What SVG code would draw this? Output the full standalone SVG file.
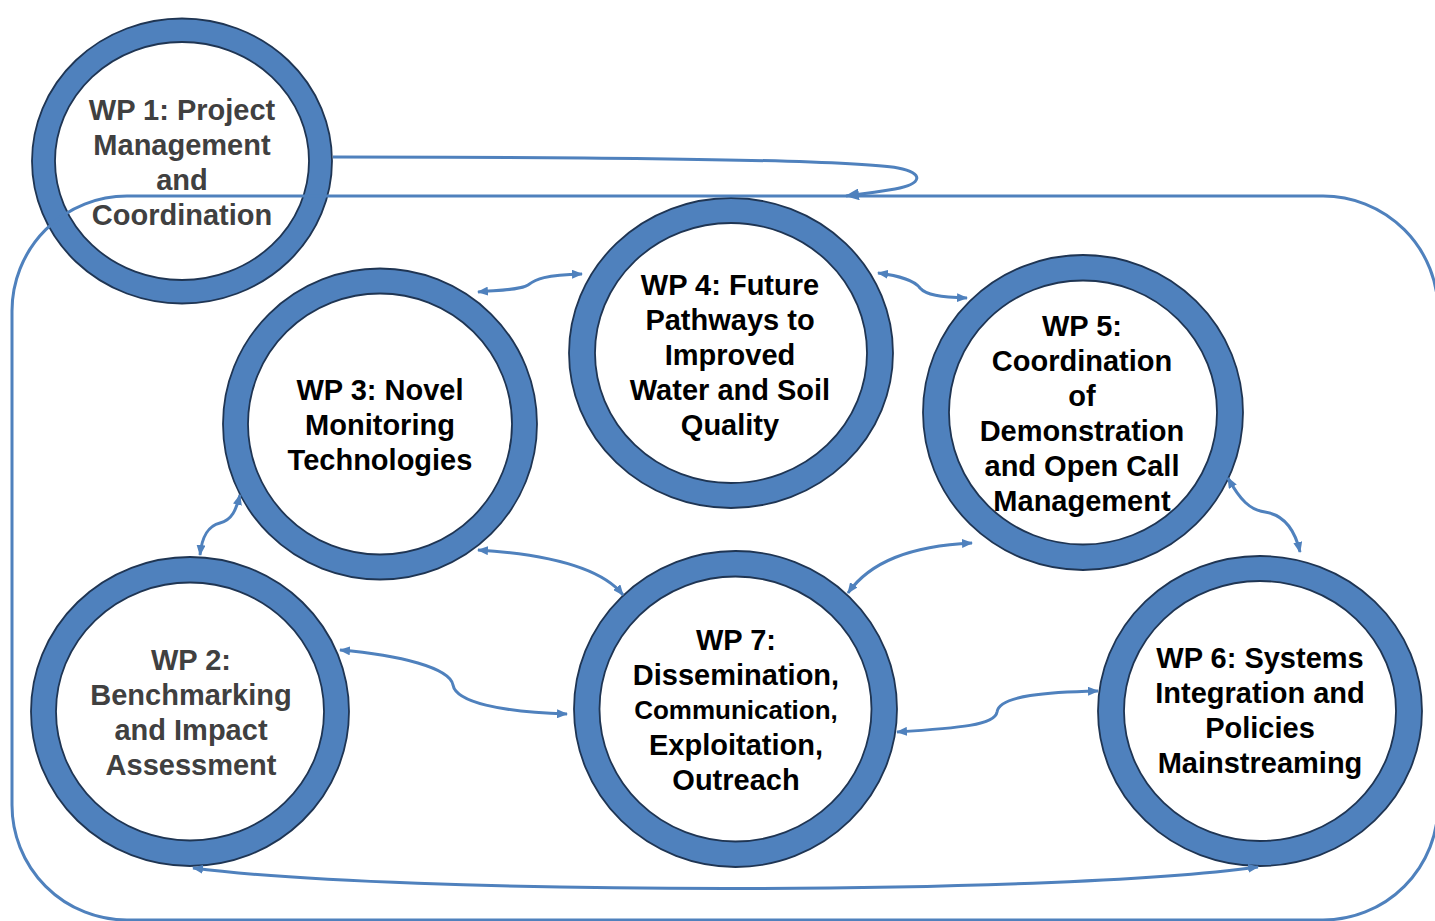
<svg xmlns="http://www.w3.org/2000/svg" width="1435" height="921" viewBox="0 0 1435 921">
<style>
.ring{fill:#4f81bd;stroke:#1f3553;stroke-width:1.8}
.hole{fill:#ffffff;stroke:#1f3553;stroke-width:1.8}
.t{font-family:"Liberation Sans",Arial,sans-serif;font-weight:bold;font-size:29px;text-anchor:middle;fill:#000}
.g{fill:#404040}
.c{fill:none;stroke:#4f81bd;stroke-width:3;marker-start:url(#ah);marker-end:url(#ah)}
.frame{fill:none;stroke:#4f81bd;stroke-width:3}
</style>
<defs>
<marker id="ah" viewBox="0 0 11 9" refX="10" refY="4.5" markerWidth="11" markerHeight="9" markerUnits="userSpaceOnUse" orient="auto-start-reverse">
<path d="M0,0 L11,4.5 L0,9 z" fill="#4f81bd"/>
</marker>
<marker id="big" viewBox="0 0 14 12" refX="13" refY="6" markerWidth="14" markerHeight="12" markerUnits="userSpaceOnUse" orient="auto">
<path d="M0,0 L14,6 L0,12 z" fill="#4f81bd"/>
</marker>
</defs>
<rect width="1435" height="921" fill="#ffffff"/>

<g id="wp1">
<ellipse class="ring" cx="182" cy="161" rx="150" ry="142.5"/>
<ellipse class="hole" cx="182" cy="161" rx="127" ry="119"/>
<text class="t g" x="182" y="120">WP 1: Project</text>
<text class="t g" x="182" y="155">Management</text>
<text class="t g" x="182" y="190">and</text>
<text class="t g" x="182" y="225">Coordination</text>
</g>

<g id="wp3">
<ellipse class="ring" cx="380" cy="424" rx="157" ry="155.5"/>
<ellipse class="hole" cx="380" cy="424" rx="132" ry="130.5"/>
<text class="t" x="380" y="400">WP 3: Novel</text>
<text class="t" x="380" y="435">Monitoring</text>
<text class="t" x="380" y="470">Technologies</text>
</g>

<g id="wp4">
<ellipse class="ring" cx="731" cy="353" rx="162" ry="155"/>
<ellipse class="hole" cx="731" cy="353" rx="136" ry="130"/>
<text class="t" x="730" y="295">WP 4: Future</text>
<text class="t" x="730" y="330">Pathways to</text>
<text class="t" x="730" y="365">Improved</text>
<text class="t" x="730" y="400">Water and Soil</text>
<text class="t" x="730" y="435">Quality</text>
</g>

<g id="wp5">
<ellipse class="ring" cx="1083" cy="412.5" rx="160" ry="157.5"/>
<ellipse class="hole" cx="1083" cy="412.5" rx="134" ry="132"/>
<text class="t" x="1082" y="336">WP 5:</text>
<text class="t" x="1082" y="371">Coordination</text>
<text class="t" x="1082" y="406">of</text>
<text class="t" x="1082" y="441">Demonstration</text>
<text class="t" x="1082" y="476">and Open Call</text>
<text class="t" x="1082" y="511">Management</text>
</g>

<g id="wp2">
<ellipse class="ring" cx="190" cy="711.5" rx="159" ry="154.5"/>
<ellipse class="hole" cx="190" cy="711.5" rx="134" ry="129"/>
<text class="t g" x="191" y="670">WP 2:</text>
<text class="t g" x="191" y="705">Benchmarking</text>
<text class="t g" x="191" y="740">and Impact</text>
<text class="t g" x="191" y="775">Assessment</text>
</g>

<g id="wp7">
<ellipse class="ring" cx="735.5" cy="709" rx="161.5" ry="158"/>
<ellipse class="hole" cx="735.5" cy="709" rx="136" ry="132.5"/>
<text class="t" x="736" y="650">WP 7:</text>
<text class="t" x="736" y="685">Dissemination,</text>
<text class="t" x="736" y="719" style="font-size:26px">Communication,</text>
<text class="t" x="736" y="755">Exploitation,</text>
<text class="t" x="736" y="790">Outreach</text>
</g>

<g id="wp6">
<ellipse class="ring" cx="1260" cy="711" rx="162" ry="155"/>
<ellipse class="hole" cx="1260" cy="711" rx="136" ry="130"/>
<text class="t" x="1260" y="668">WP 6: Systems</text>
<text class="t" x="1260" y="703">Integration and</text>
<text class="t" x="1260" y="738">Policies</text>
<text class="t" x="1260" y="773">Mainstreaming</text>
</g>

<g id="frame">
<rect class="frame" x="12" y="196" width="1426" height="724" rx="115" ry="115"/>
</g>

<g id="connectors">
<path d="M333,157 C 600,157 850,160 898,168 C 925,173 922,184 895,189 C 878,192 862,194 846,196" fill="none" stroke="#4f81bd" stroke-width="3" marker-end="url(#big)"/>
<path class="c" d="M478,292 C 500,290 520,290 528,285 C 536,279 545,275 582,274"/>
<path class="c" d="M878,273 C 900,276 914,280 920,288 C 926,295 940,297 967,298"/>
<path class="c" d="M240,495 C 236,510 232,520 220,523 C 208,526 202,536 200,555"/>
<path class="c" d="M478,550 C 540,554 600,566 623,595"/>
<path class="c" d="M848,593 C 870,562 910,546 972,543"/>
<path class="c" d="M340,650 C 400,655 450,668 453,685 C 456,702 500,712 567,714"/>
<path class="c" d="M897,732 C 960,728 995,725 997,712 C 999,695 1050,692 1098,691"/>
<path class="c" d="M1228,478 C 1240,500 1250,510 1265,512 C 1285,515 1295,530 1300,552"/>
<path class="c" d="M193,868 C 400,895 1050,896 1258,867"/>
</g>
</svg>
